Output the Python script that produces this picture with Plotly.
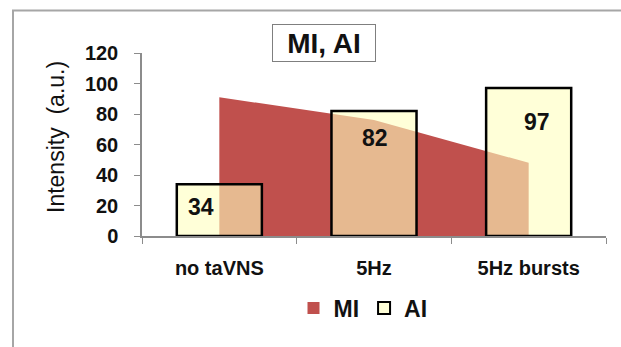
import plotly.graph_objects as go

# Data
categories = ["no taVNS", "5Hz", "5Hz bursts"]
mi_values = [91, 76, 48]
ai_values = [34, 82, 97]
y_ticks = [0, 20, 40, 60, 80, 100, 120]

# Label nudges (px) for the AI value labels
label_dx = [-18, 1, 8]
label_dy = [-23, -27, -34]

W, H = 621, 347
L, R, T, B = 142, 15, 53, 111
pw, ph = W - L - R, H - T - B

FONT = "Liberation Sans, Arial, sans-serif"
RED = "#C0504D"
AXIS_GREY = "#8c8c8c"


def px_x(x):
    return (x - L) / pw


def px_y(y):
    return (H - B - y) / ph


fig = go.Figure()

# MI as a filled area on the base axes
fig.add_trace(go.Scatter(
    x=categories, y=mi_values, xaxis="x", yaxis="y",
    mode="lines", fill="tozeroy", fillcolor=RED,
    line=dict(width=0, color=RED), showlegend=False, hoverinfo="skip",
))
# legend entry for MI (square swatch)
fig.add_trace(go.Scatter(
    x=[None], y=[None], xaxis="x", yaxis="y", mode="markers", name="MI",
    marker=dict(symbol="square", size=15, color=RED, line=dict(width=0)),
))
# AI bars on an overlaid subplot so they sit above the area
fig.add_trace(go.Bar(
    x=categories, y=ai_values, xaxis="x2", yaxis="y2", name="AI",
    width=0.55,
    marker=dict(color="rgba(255,255,190,0.6)", line=dict(color="black", width=2.5)),
))

annotations = []
for c, v, dx, dy in zip(categories, ai_values, label_dx, label_dy):
    annotations.append(dict(
        x=c, y=v, xref="x2", yref="y2", text=str(v), showarrow=False,
        xshift=dx, yshift=dy, yanchor="middle",
        font=dict(family=FONT, size=23, color="#111", weight="bold"),
    ))
# boxed chart title
annotations.append(dict(
    x=px_x(323.5), y=px_y(43), xref="paper", yref="paper",
    text="MI, AI", showarrow=False, xanchor="center", yanchor="middle",
    width=100, height=34, borderpad=1, borderwidth=1, bordercolor="#7f7f7f",
    bgcolor="white", font=dict(family=FONT, size=28, color="#111", weight="bold"),
))
# y-axis title
annotations.append(dict(
    x=px_x(56), y=px_y(137), xref="paper", yref="paper",
    text="Intensity  (a.u.)", showarrow=False, textangle=-90,
    xanchor="center", yanchor="middle",
    font=dict(family=FONT, size=23, color="#111"),
))

shapes = [
    # outer frame (left and top edges)
    dict(type="line", xref="paper", yref="paper", x0=px_x(13), x1=px_x(13),
         y0=px_y(10.5), y1=px_y(H + 5), line=dict(color="#a6a6a6", width=2)),
    dict(type="line", xref="paper", yref="paper", x0=px_x(12), x1=px_x(W + 5),
         y0=px_y(10.5), y1=px_y(10.5), line=dict(color="#a6a6a6", width=2)),
]

tickfont = dict(family=FONT, size=20, color="#111", weight="bold")

fig.update_layout(
    width=W, height=H,
    margin=dict(l=L, r=R, t=T, b=B, pad=0),
    paper_bgcolor="white", plot_bgcolor="white",
    showlegend=True,
    legend=dict(
        orientation="h", x=px_x(363), xanchor="center", y=px_y(308), yanchor="middle",
        font=dict(family=FONT, size=23, color="#111", weight="bold"),
        traceorder="normal", itemsizing="constant", bgcolor="rgba(0,0,0,0)",
        itemwidth=30,
    ),
    xaxis=dict(
        type="category", range=[-0.5, 2.5], showline=True, linecolor=AXIS_GREY,
        linewidth=1.5, ticks="outside", tickson="boundaries", ticklen=6,
        tickcolor=AXIS_GREY, showgrid=False, zeroline=False,
        tickfont=tickfont, ticklabelstandoff=13,
    ),
    yaxis=dict(
        range=[0, 120], tickvals=y_ticks, showline=True, linecolor=AXIS_GREY,
        linewidth=1.5, ticks="outside", ticklen=6, tickcolor=AXIS_GREY,
        showgrid=False, zeroline=False, tickfont=tickfont, ticklabelstandoff=12,
    ),
    xaxis2=dict(type="category", overlaying="x", matches="x", range=[-0.5, 2.5],
                visible=False),
    yaxis2=dict(overlaying="y", range=[0, 120], visible=False),
    annotations=annotations,
    shapes=shapes,
)

fig.write_html("out.html")
